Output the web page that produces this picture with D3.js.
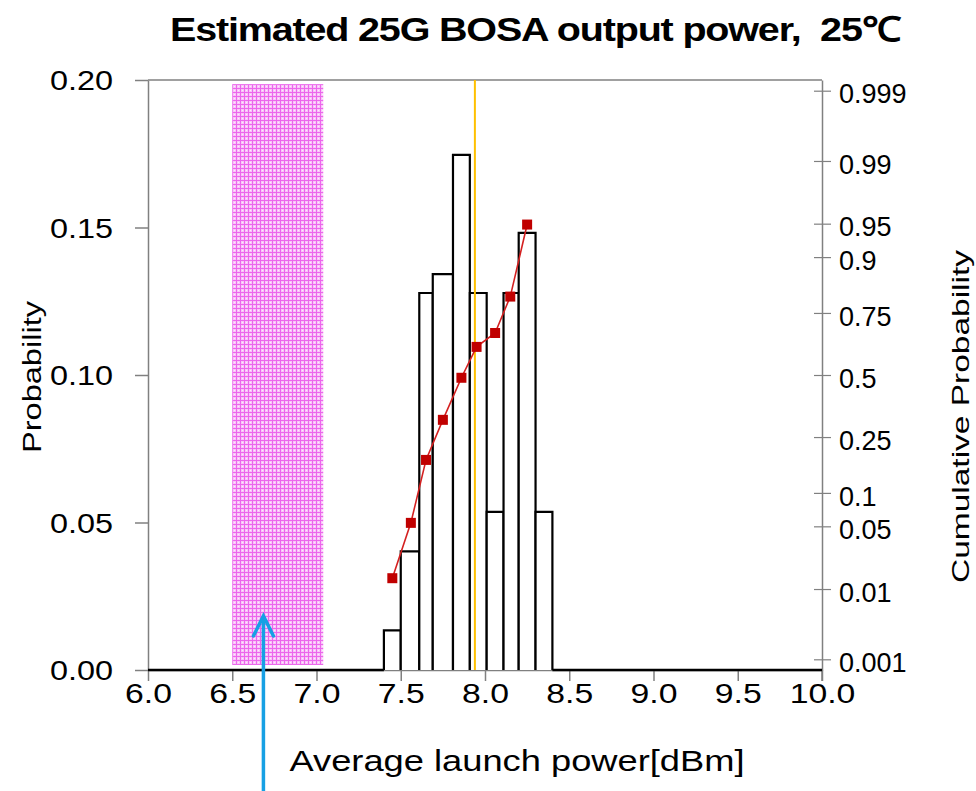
<!DOCTYPE html>
<html>
<head>
<meta charset="utf-8">
<script src="https://cdn.jsdelivr.net/npm/d3@7"></script>
<style>
  html, body { margin: 0; padding: 0; background: #fff; }
  svg { display: block; }
  text { font-family: "Liberation Sans", Arial, sans-serif; fill: #000; }
</style>
</head>
<body>
<svg id="chart" width="976" height="791"></svg>
<script>
// ---------- data ----------
const binEdges = [7.40, 7.50, 7.61, 7.69, 7.81, 7.91, 8.01, 8.11, 8.20, 8.30, 8.40];
const probabilities = [0.0134, 0.0402, 0.1278, 0.1342, 0.1746, 0.1278, 0.0536, 0.1278, 0.1482, 0.0536];
const cumX = [7.45, 7.56, 7.65, 7.75, 7.86, 7.95, 8.06, 8.15, 8.25];
const cumP = [0.0136, 0.054, 0.178, 0.313, 0.488, 0.62, 0.676, 0.803, 0.949];
const meanPower = 7.94;
const specBand = [6.5, 7.04];
const specBandY = [0.0017, 0.1986];
const arrowX = 6.685;
const xTicks = [6.0, 6.5, 7.0, 7.5, 8.0, 8.5, 9.0, 9.5, 10.0];
const yTicks = [0, 0.05, 0.10, 0.15, 0.20];
const cumTicks = [0.001, 0.01, 0.05, 0.1, 0.25, 0.5, 0.75, 0.9, 0.95, 0.99, 0.999];
const cumTickLabels = ["0.001", "0.01", "0.05", "0.1", "0.25", "0.5", "0.75", "0.9", "0.95", "0.99", "0.999"];
const titleText = "Estimated 25G BOSA output power,  25\u2103";
const xLabel = "Average launch power[dBm]";
const yLabel = "Probability";
const y2Label = "Cumulative Probability";

// inverse standard normal CDF (Acklam)
function probit(p) {
  const a = [-3.969683028665376e+01, 2.209460984245205e+02, -2.759285104469687e+02, 1.383577518672690e+02, -3.066479806614716e+01, 2.506628277459239e+00];
  const b = [-5.447609879822406e+01, 1.615858368580409e+02, -1.556989798598866e+02, 6.680131188771972e+01, -1.328068155288572e+01];
  const c = [-7.784894002430293e-03, -3.223964580411365e-01, -2.400758277161838e+00, -2.549671750058005e+00, 4.374664141464968e+00, 2.938163982698783e+00];
  const d = [7.784695709041462e-03, 3.224671290700398e-01, 2.445134137142996e+00, 3.754408661907416e+00];
  const pl = 0.02425, ph = 1 - pl;
  let q, r;
  if (p < pl) {
    q = Math.sqrt(-2 * Math.log(p));
    return (((((c[0]*q+c[1])*q+c[2])*q+c[3])*q+c[4])*q+c[5]) / ((((d[0]*q+d[1])*q+d[2])*q+d[3])*q+1);
  }
  if (p <= ph) {
    q = p - 0.5; r = q * q;
    return (((((a[0]*r+a[1])*r+a[2])*r+a[3])*r+a[4])*r+a[5])*q / (((((b[0]*r+b[1])*r+b[2])*r+b[3])*r+b[4])*r+1);
  }
  q = Math.sqrt(-2 * Math.log(1 - p));
  return -(((((c[0]*q+c[1])*q+c[2])*q+c[3])*q+c[4])*q+c[5]) / ((((d[0]*q+d[1])*q+d[2])*q+d[3])*q+1);
}

// ---------- layout ----------
const L = 148, R = 822, T = 80, B = 670;
const svg = d3.select("#chart");

const x = d3.scaleLinear().domain([6, 10]).range([L, R]);
const y = d3.scaleLinear().domain([0, 0.2]).range([B, T]);
const zMax = 3.2065;
const yz = d3.scaleLinear().domain([-zMax, zMax]).range([B, T]);

// pattern for spec band
const defs = svg.append("defs");
const pat = defs.append("pattern").attr("id", "pinkpat").attr("patternUnits", "userSpaceOnUse")
  .attr("width", 4).attr("height", 4);
pat.append("rect").attr("width", 4).attr("height", 4).attr("fill", "#f8c4f8");
pat.append("rect").attr("width", 1).attr("height", 4).attr("fill", "#ec66ec");
pat.append("rect").attr("width", 4).attr("height", 1).attr("fill", "#ec66ec");
pat.append("rect").attr("x", 2).attr("y", 2).attr("width", 1).attr("height", 1).attr("fill", "#fdeafd");

// title
svg.append("text").attr("x", 535).attr("y", 41).attr("text-anchor", "middle")
  .attr("font-size", 34).attr("font-weight", "bold").style("white-space", "pre")
  .attr("letter-spacing", -1)
  .attr("textLength", 730).attr("lengthAdjust", "spacingAndGlyphs")
  .text(titleText);

// top border
svg.append("line").attr("x1", L).attr("x2", R).attr("y1", T).attr("y2", T)
  .attr("stroke", "#808080").attr("stroke-width", 1.5);

// spec band
svg.append("rect")
  .attr("x", x(specBand[0])).attr("width", x(specBand[1]) - x(specBand[0]))
  .attr("y", y(specBandY[1])).attr("height", y(specBandY[0]) - y(specBandY[1]))
  .attr("fill", "url(#pinkpat)");

function stretch(sel, k) {
  sel.each(function () {
    const w = this.getComputedTextLength();
    d3.select(this).attr("textLength", w * k).attr("lengthAdjust", "spacingAndGlyphs");
  });
}

// x axis
const xAxis = d3.axisBottom(x).tickValues(xTicks).tickFormat(d3.format(".1f"))
  .tickSizeInner(11).tickSizeOuter(0).tickPadding(3);
const gx = svg.append("g").attr("transform", `translate(0,${B})`).call(xAxis);
gx.select(".domain").attr("stroke", "#808080").attr("stroke-width", 1.5);
gx.selectAll(".tick line").attr("stroke", "#808080").attr("stroke-width", 1.5);
gx.selectAll(".tick text").attr("font-size", 27).attr("font-family", "Liberation Sans, Arial, sans-serif")
  .attr("fill", "#000");
stretch(gx.selectAll(".tick text"), 1.25);

// left axis
const yAxis = d3.axisLeft(y).tickValues(yTicks).tickFormat(d3.format(".2f"))
  .tickSizeInner(13).tickSizeOuter(0).tickPadding(22);
const gy = svg.append("g").attr("transform", `translate(${L},0)`).call(yAxis);
gy.select(".domain").attr("stroke", "#808080").attr("stroke-width", 1.5);
gy.selectAll(".tick line").attr("stroke", "#808080").attr("stroke-width", 1.5);
gy.selectAll(".tick text").attr("font-size", 27).attr("font-family", "Liberation Sans, Arial, sans-serif")
  .attr("fill", "#000").attr("dy", "0.36em");
stretch(gy.selectAll(".tick text"), 1.2);

// right axis (normal probability scale)
const y2Axis = d3.axisRight(yz).tickValues(cumTicks.map(probit))
  .tickFormat((d, i) => cumTickLabels[i])
  .tickSizeInner(9).tickSizeOuter(0).tickPadding(8);
const gy2 = svg.append("g").attr("transform", `translate(${R},0)`).call(y2Axis);
gy2.select(".domain").attr("stroke", "#808080").attr("stroke-width", 1.5);
gy2.selectAll(".tick line").attr("x1", -8).attr("stroke", "#808080").attr("stroke-width", 1.2);
gy2.selectAll(".tick text").attr("font-size", 27).attr("font-family", "Liberation Sans, Arial, sans-serif")
  .attr("fill", "#000").attr("dy", "0.45em");
gy2.append("line").attr("x1", 0).attr("x2", 0).attr("y1", B).attr("y2", B + 11)
  .attr("stroke", "#808080").attr("stroke-width", 1.5);

// histogram baseline outside bars
const gh = svg.append("g");
gh.append("line").attr("x1", x(6)).attr("x2", x(binEdges[0])).attr("y1", y(0)).attr("y2", y(0))
  .attr("stroke", "#000").attr("stroke-width", 2.5);
gh.append("line").attr("x1", x(binEdges[binEdges.length - 1])).attr("x2", x(10)).attr("y1", y(0)).attr("y2", y(0))
  .attr("stroke", "#000").attr("stroke-width", 2.5);

// bars (open at bottom)
gh.selectAll("path.bar").data(probabilities).enter().append("path")
  .attr("class", "bar")
  .attr("d", (v, i) => {
    const x0 = x(binEdges[i]), x1 = x(binEdges[i + 1]);
    return `M${x0},${y(0)}V${y(v)}H${x1}V${y(0)}`;
  })
  .attr("fill", "#fff").attr("stroke", "#000").attr("stroke-width", 2.2);

// mean line
svg.append("line").attr("x1", x(meanPower)).attr("x2", x(meanPower)).attr("y1", T).attr("y2", B)
  .attr("stroke", "#ffc000").attr("stroke-width", 2);

// cumulative probability line
const cumData = cumX.map((v, i) => [v, cumP[i]]);
svg.append("path").datum(cumData)
  .attr("d", d3.line().x(d => x(d[0])).y(d => yz(probit(d[1]))))
  .attr("fill", "none").attr("stroke", "#d42020").attr("stroke-width", 1.6);
svg.selectAll("rect.pt").data(cumData).enter().append("rect")
  .attr("class", "pt")
  .attr("x", d => x(d[0]) - 5).attr("y", d => yz(probit(d[1])) - 5)
  .attr("width", 10).attr("height", 10).attr("fill", "#c00000");

// axis titles
svg.append("text").attr("transform", `translate(32,${(T + B) / 2 + 2}) rotate(-90)`)
  .attr("text-anchor", "middle").attr("font-size", 26).attr("dy", "0.35em")
  .attr("textLength", 152).attr("lengthAdjust", "spacingAndGlyphs")
  .text(yLabel);
svg.append("text").attr("transform", `translate(961,${(250 + 583) / 2}) rotate(-90)`)
  .attr("text-anchor", "middle").attr("font-size", 24).attr("dy", "0.35em")
  .attr("textLength", 333).attr("lengthAdjust", "spacingAndGlyphs")
  .text(y2Label);
svg.append("text").attr("x", 517).attr("y", 771).attr("text-anchor", "middle")
  .attr("font-size", 30).attr("font-family", "Open Sans, DejaVu Sans, sans-serif")
  .attr("textLength", 455).attr("lengthAdjust", "spacingAndGlyphs")
  .text(xLabel);

// blue arrow annotation
const ax = x(arrowX);
const arrow = svg.append("g").attr("stroke", "#17a0e4").attr("stroke-width", 3.5).attr("fill", "none")
  .attr("stroke-linecap", "round");
arrow.append("line").attr("x1", ax).attr("x2", ax).attr("y1", 791).attr("y2", 617);
arrow.append("path").attr("d", `M${ax - 10},${636}L${ax},${616}L${ax + 10},${636}`);
</script>
</body>
</html>
